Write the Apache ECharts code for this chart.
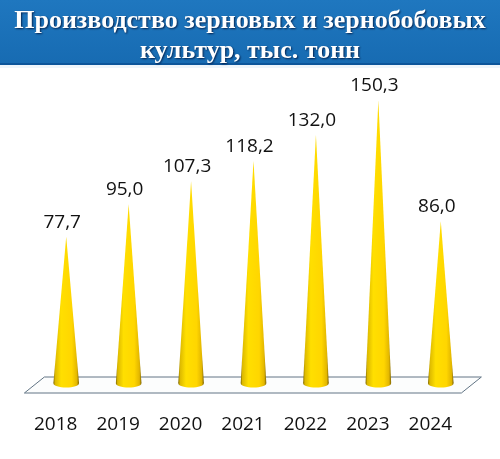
<!DOCTYPE html>
<html><head><meta charset="utf-8">
<script src="https://cdn.jsdelivr.net/npm/echarts@6/dist/echarts.min.js"></script>
<style>html,body{margin:0;padding:0;background:#fff}#c{width:500px;height:459px}</style>
</head><body><div id="c"></div>
<script>
const titleLines = ['Производство зерновых и зернобобовых', 'культур, тыс. тонн'];
const years = ['2018', '2019', '2020', '2021', '2022', '2023', '2024'];
const values = [77.7, 95.0, 107.3, 118.2, 132.0, 150.3, 86.0];

const fmt = v => v.toFixed(1).replace('.', ',');
const chart = echarts.init(document.getElementById('c'), null, {renderer: 'canvas'});

function coneFill() {
  return new echarts.graphic.LinearGradient(0, 0, 1, 0, [
    {offset: 0, color: '#7d6600'},
    {offset: 0.07, color: '#dcb900'},
    {offset: 0.3, color: '#ffdf00'},
    {offset: 0.72, color: '#ffd600'},
    {offset: 0.92, color: '#e2b600'},
    {offset: 1, color: '#7a6000'}
  ]);
}

function renderCone(params, api) {
  const i = api.value(0), v = api.value(1);
  const base = api.coord([i, 0]);
  const tip = api.coord([i, v]);
  const bw = api.size([1, 0])[0];
  const hw = bw * 0.205;
  return {
    type: 'group',
    children: [
      {type: 'ellipse', shape: {cx: base[0], cy: base[1] + 0.5, rx: hw, ry: 4}, style: {fill: coneFill()}},
      {type: 'polygon', shape: {points: [[base[0] - hw, base[1]], [base[0] + hw, base[1]], [tip[0], tip[1]]]},
        style: {fill: coneFill()}},
      {type: 'text', x: tip[0] - 4, y: tip[1] - 5,
        style: {text: fmt(v), fill: '#111', font: '19px "Open Sans"', textAlign: 'center', textVerticalAlign: 'bottom'}}
    ]
  };
}

function renderFloor(params, api) {
  const first = api.coord([0, 0]);
  const last = api.coord([years.length - 1, 0]);
  const bw = api.size([1, 0])[0];
  const yt = first[1] - 6, yb = first[1] + 10;
  return {
    type: 'polygon',
    shape: {points: [
      [first[0] - bw * 0.35, yt], [last[0] + bw * 0.65, yt],
      [last[0] + bw * 0.33, yb], [first[0] - bw * 0.67, yb]
    ]},
    style: {fill: '#fcfdfd', stroke: '#627585', lineWidth: 1}
  };
}

chart.setOption({
  backgroundColor: '#ffffff',
  animation: false,
  graphic: [
    {type: 'rect', z: -10, shape: {x: 0, y: 0, width: 500, height: 65},
      style: {fill: new echarts.graphic.LinearGradient(0, 0, 0, 1, [
        {offset: 0, color: '#1f77bf'}, {offset: 1, color: '#176bb2'}])}},
    {type: 'rect', z: -9, shape: {x: 0, y: 63, width: 500, height: 2}, style: {fill: '#0c559a'}},
    {type: 'rect', z: -9, shape: {x: 0, y: 65, width: 500, height: 3}, style: {fill: '#eef5fb'}}
  ],
  title: {
    text: titleLines.join('\n'),
    left: 'center', top: 1,
    textStyle: {
      fontFamily: 'Liberation Serif', fontWeight: 'bold', fontSize: 26, lineHeight: 30,
      color: '#ffffff', textShadowColor: 'rgba(0,20,60,0.85)', textShadowBlur: 2,
      textShadowOffsetX: 1, textShadowOffsetY: 1
    }
  },
  grid: {left: 35, right: 28, top: 82, bottom: 76},
  xAxis: {
    type: 'category', data: years, boundaryGap: true,
    axisLine: {show: false}, axisTick: {show: false}, splitLine: {show: false},
    axisLabel: {fontFamily: 'Open Sans', fontSize: 19, color: '#111', margin: 32, padding: [0, 21, 0, 0]}
  },
  yAxis: {type: 'value', min: 0, max: 160, show: false, splitLine: {show: false}},
  series: [
    {type: 'custom', z: 1, renderItem: renderFloor, data: [[0, 0]], encode: {x: 0, y: 1}, silent: true},
    {type: 'custom', z: 2, renderItem: renderCone, data: values.map((v, i) => [i, v]), encode: {x: 0, y: 1}}
  ]
});
</script></body></html>
